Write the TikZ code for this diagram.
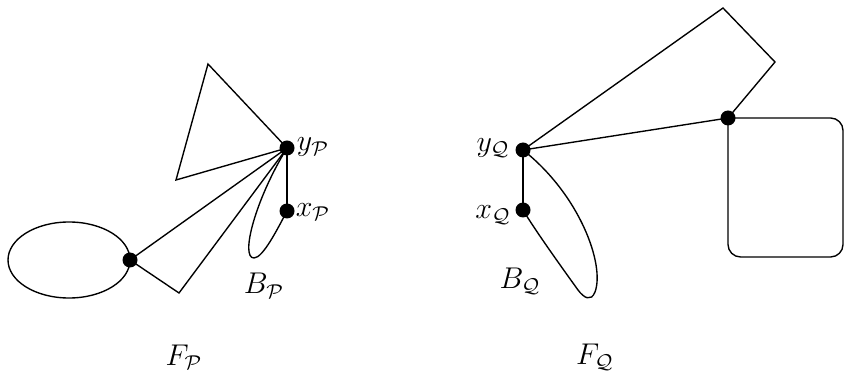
\documentclass[tikz,border=0pt]{standalone}
\usepackage{amsmath}
\begin{document}
\begin{tikzpicture}[x=0.4pt,y=-0.4pt,line width=0.55pt,
  vtx/.style={circle,fill=black,inner sep=0pt,minimum size=6pt},
  lbl/.style={inner sep=0pt,font=\fontsize{12}{14}\selectfont}]
\useasboundingbox (0,0) rectangle (844,391);
% left part
\node[vtx] (c) at (130,260) {};
\node[vtx] (yP) at (287,148) {};
\node[vtx] (xP) at (287,211) {};
\coordinate (tb) at (179,293);
\coordinate (tt) at (208,64);
\coordinate (tl) at (176,180);
\draw (69,260) ellipse [x radius=61, y radius=38];
\draw (c.center) -- (yP.center) -- (tb) -- (c.center);
\draw (yP.center) -- (tt) -- (tl) -- cycle;
\draw (yP.center) -- (xP.center);
\draw (yP.center) .. controls (255,200) and (240,258) .. (254,258) .. controls (263,258) and (278,228) .. (xP.center);
\node[lbl] at (313,147) {$y_{\mathcal{P}}$};
\node[lbl] at (313,212) {$x_{\mathcal{P}}$};
\node[lbl] at (264,286) {$B_{\mathcal{P}}$};
\node[lbl] at (184,357) {$F_{\mathcal{P}}$};
% right part
\node[vtx] (yQ) at (523,150) {};
\node[vtx] (xQ) at (523,210) {};
\node[vtx] (r) at (728,118) {};
\coordinate (qt) at (723,8);
\coordinate (qr) at (775,62);
\draw (yQ.center) -- (qt) -- (qr) -- (r.center) -- cycle;
\draw (yQ.center) -- (xQ.center);
\draw[rounded corners=5pt] (r.center) -- (843,118) -- (843,257) -- (728,257) -- (r.center);
\draw (yQ.center) .. controls (580,195) and (605,265) .. (595,292) .. controls (591,302) and (584,298) .. (578,290) .. controls (560,265) and (535,230) .. (xQ.center);
\node[lbl] at (493,148) {$y_{\mathcal{Q}}$};
\node[lbl] at (493,215) {$x_{\mathcal{Q}}$};
\node[lbl] at (520,281) {$B_{\mathcal{Q}}$};
\node[lbl] at (595,357) {$F_{\mathcal{Q}}$};
\end{tikzpicture}
\end{document}
